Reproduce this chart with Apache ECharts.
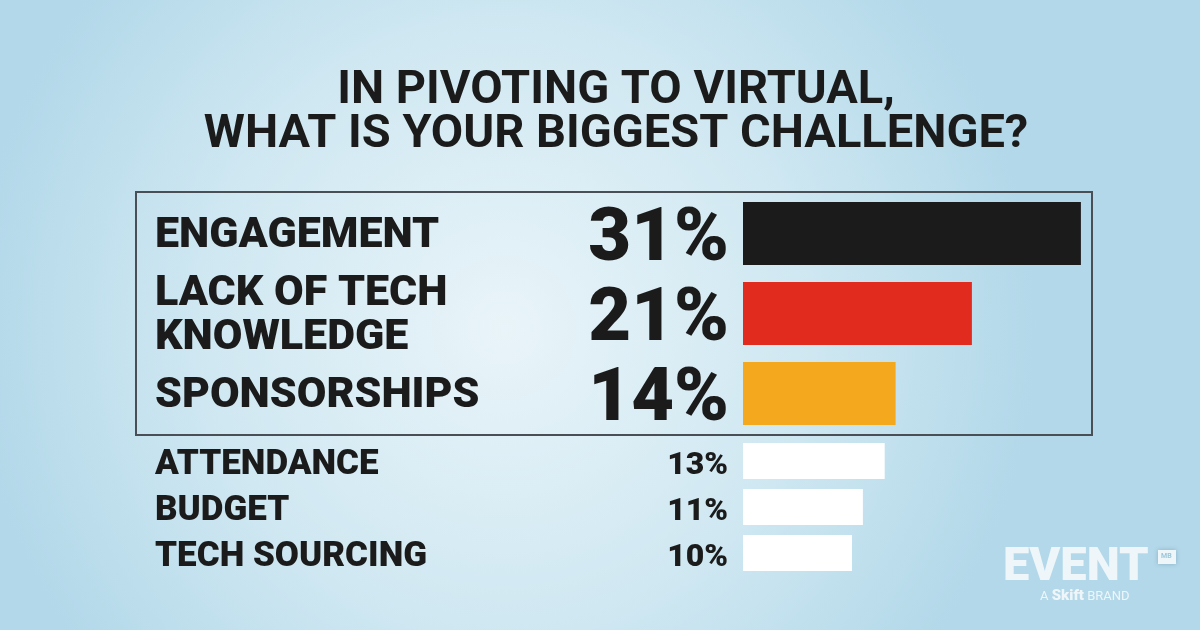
<!DOCTYPE html>
<html>
<head>
<meta charset="utf-8">
<script src="https://cdn.jsdelivr.net/npm/echarts@6/dist/echarts.min.js"></script>
<style>
  html, body { margin: 0; padding: 0; }
  #chart { width: 1200px; height: 630px; }
</style>
</head>
<body>
<div id="chart"></div>
<script>
// top three answers (boxed)
const topCategories = ["ENGAGEMENT", "LACK OF TECH\nKNOWLEDGE", "SPONSORSHIPS"];
const topValues = [31, 21, 14];
// remaining answers
const otherCategories = ["ATTENDANCE", "BUDGET", "TECH SOURCING"];
const otherValues = [13, 11, 10];

const topColors = ["#1b1b1b", "#e22b1f", "#f4a81d"];
const fontStack = "Roboto, 'Liberation Sans', sans-serif";

// wrap each line in a rich tag so the padding nudges the text down a bit
const wrapRich = (tag) => (v) => v.split("\n").map((s) => "{" + tag + "|" + s + "}").join("\n");

const chart = echarts.init(document.getElementById("chart"));

const option = {
  animation: false,
  backgroundColor: {
    type: "radial",
    x: 0.42,
    y: 0.52,
    r: 0.85,
    colorStops: [
      { offset: 0, color: "#e9f4f9" },
      { offset: 0.55, color: "#d0e8f2" },
      { offset: 1, color: "#b2d8e9" },
    ],
  },
  title: {
    text: "IN PIVOTING TO VIRTUAL,\nWHAT IS YOUR BIGGEST CHALLENGE?",
    left: 611,
    top: 64,
    textAlign: "center",
    textStyle: {
      fontFamily: fontStack,
      fontWeight: "bold",
      fontSize: 47,
      lineHeight: 44,
      color: "#1b1b1b",
    },
  },
  grid: [
    { left: 743, width: 436, top: 193.5, height: 240 },
    { left: 743, width: 436, top: 438, height: 138 },
  ],
  xAxis: [
    { gridIndex: 0, type: "value", min: 0, max: 40, show: false },
    { gridIndex: 1, type: "value", min: 0, max: 40, show: false },
  ],
  yAxis: [
    {
      gridIndex: 0,
      type: "category",
      inverse: true,
      data: topCategories,
      axisLine: { show: false },
      axisTick: { show: false },
      axisLabel: {
        interval: 0,
        align: "left",
        margin: 588,
        formatter: wrapRich("a"),
        rich: {
          a: {
            fontFamily: fontStack,
            fontWeight: 900,
            fontSize: 43,
            lineHeight: 44,
            padding: [6, 0, 0, 0],
            color: "#1b1b1b",
          },
        },
      },
    },
    {
      gridIndex: 1,
      type: "category",
      inverse: true,
      data: otherCategories,
      axisLine: { show: false },
      axisTick: { show: false },
      axisLabel: {
        interval: 0,
        hideOverlap: false,
        align: "left",
        margin: 588,
        formatter: wrapRich("b"),
        rich: {
          b: {
            fontFamily: fontStack,
            fontWeight: 900,
            fontSize: 35,
            lineHeight: 34,
            padding: [8, 0, 0, 0],
            color: "#1b1b1b",
          },
        },
      },
    },
  ],
  series: [
    {
      type: "bar",
      xAxisIndex: 0,
      yAxisIndex: 0,
      barWidth: 63,
      data: topValues.map((v, i) => ({ value: v, itemStyle: { color: topColors[i] } })),
      label: {
        show: true,
        position: "left",
        distance: 14,
        offset: [0, 8],
        formatter: "{c}%",
        fontFamily: fontStack,
        fontWeight: 900,
        fontSize: 74,
        color: "#1b1b1b",
      },
    },
    {
      type: "bar",
      xAxisIndex: 1,
      yAxisIndex: 1,
      barWidth: 36,
      itemStyle: { color: "#ffffff" },
      data: otherValues,
      label: {
        show: true,
        position: "left",
        distance: 15,
        offset: [0, 5],
        formatter: "{c}%",
        fontFamily: fontStack,
        fontWeight: 900,
        fontSize: 32,
        color: "#1b1b1b",
      },
    },
  ],
  graphic: [
    {
      type: "rect",
      shape: { x: 136, y: 192, width: 956, height: 243 },
      style: { fill: "none", stroke: "#4a4f55", lineWidth: 2 },
      silent: true,
    },
    {
      type: "text",
      left: 1003,
      top: 545,
      style: {
        text: "EVENT",
        fontFamily: fontStack,
        fontWeight: 900,
        fontSize: 47,
        fill: "#eef6fa",
        shadowColor: "rgba(60,100,130,0.35)",
        shadowBlur: 6,
        shadowOffsetY: 2,
      },
    },
    {
      type: "rect",
      shape: { x: 1158, y: 550, width: 18, height: 14 },
      style: { fill: "#eef6fa", shadowColor: "rgba(60,100,130,0.35)", shadowBlur: 4 },
    },
    {
      type: "text",
      left: 1161,
      top: 553,
      style: { text: "MB", fontFamily: fontStack, fontWeight: "bold", fontSize: 7, fill: "#9cc6d9" },
    },
    {
      type: "text",
      left: 1040,
      top: 589,
      style: {
        text: "A {b|Skift} BRAND",
        fontFamily: fontStack,
        fontSize: 13,
        fill: "#eef6fa",
        rich: {
          b: { fontFamily: fontStack, fontWeight: 900, fontSize: 15, fill: "#eef6fa" },
        },
      },
    },
  ],
};

chart.setOption(option);
</script>
</body>
</html>
